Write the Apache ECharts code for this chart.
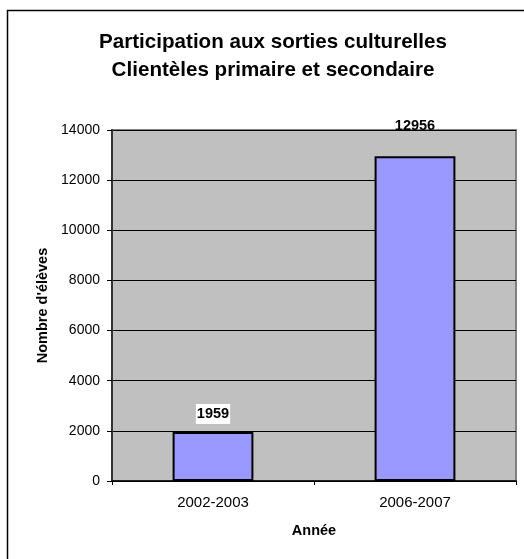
<!DOCTYPE html>
<html><head><meta charset="utf-8">
<script src="https://cdn.jsdelivr.net/npm/echarts@6/dist/echarts.min.js"></script>
<style>html,body{margin:0;padding:0;background:#fff}#c{width:524px;height:559px}</style>
</head><body><div id="c"></div>
<script>
const titleLines = ['Participation aux sorties culturelles', 'Clientèles primaire et secondaire'];
const categories = ['2002-2003', '2006-2007'];
const values = [1959, 12956];
const yTicks = { min: 0, max: 14000, interval: 2000 };
const yName = "Nombre d'élèves";
const xName = 'Année';

const font = 'Liberation Sans, Arial, sans-serif';
const labelDistances = [8, 21];
const labelBoxes = ['#fff', 'transparent'];
const chart = echarts.init(document.getElementById('c'));
chart.setOption({
  animation: false,
  backgroundColor: '#fff',
  graphic: [{
    type: 'rect', shape: { x: 7.5, y: 10.5, width: 540, height: 560 },
    style: { fill: 'none', stroke: '#000', lineWidth: 1.5 }, z: -1
  }],
  title: {
    text: titleLines.join('\n'), left: 268, textAlign: 'center', top: 23,
    textStyle: { fontFamily: font, fontSize: 20.6, fontWeight: 'bold', color: '#000', lineHeight: 28 }
  },
  grid: { left: 112, top: 130, right: 8, bottom: 78, show: true, backgroundColor: '#C0C0C0', borderColor: '#808080', borderWidth: 2 },
  xAxis: {
    type: 'category', data: categories,
    name: xName, nameLocation: 'middle', nameGap: 42,
    nameTextStyle: { fontFamily: font, fontSize: 14.5, fontWeight: 'bold', color: '#000' },
    axisLine: { lineStyle: { color: '#000', width: 1.5 } },
    axisTick: { show: true, length: 4, lineStyle: { color: '#000' } },
    axisLabel: { fontFamily: font, fontSize: 15, color: '#000', margin: 14 }
  },
  yAxis: {
    type: 'value', min: yTicks.min, max: yTicks.max, interval: yTicks.interval,
    name: yName, nameLocation: 'middle', nameGap: 62,
    nameTextStyle: { fontFamily: font, fontSize: 14.5, fontWeight: 'bold', color: '#000' },
    axisLine: { show: true, lineStyle: { color: '#333', width: 2 } },
    axisTick: { show: true, length: 5, lineStyle: { color: '#000' } },
    axisLabel: { fontFamily: font, fontSize: 14, color: '#000', margin: 12, formatter: v => String(v) },
    splitLine: { lineStyle: { color: '#000', width: 1 } }
  },
  series: [{
    type: 'bar',
    data: values.map((v, i) => ({ value: v, label: { distance: labelDistances[i], backgroundColor: labelBoxes[i] } })),
    barWidth: '40%',
    itemStyle: { color: '#9999FF', borderColor: '#000', borderWidth: 2 },
    label: {
      show: true, position: 'top',
      fontFamily: font, fontSize: 14.5, fontWeight: 'bold', color: '#000',
      padding: [3, 1, 2, 1]
    }
  }]
});
</script></body></html>
